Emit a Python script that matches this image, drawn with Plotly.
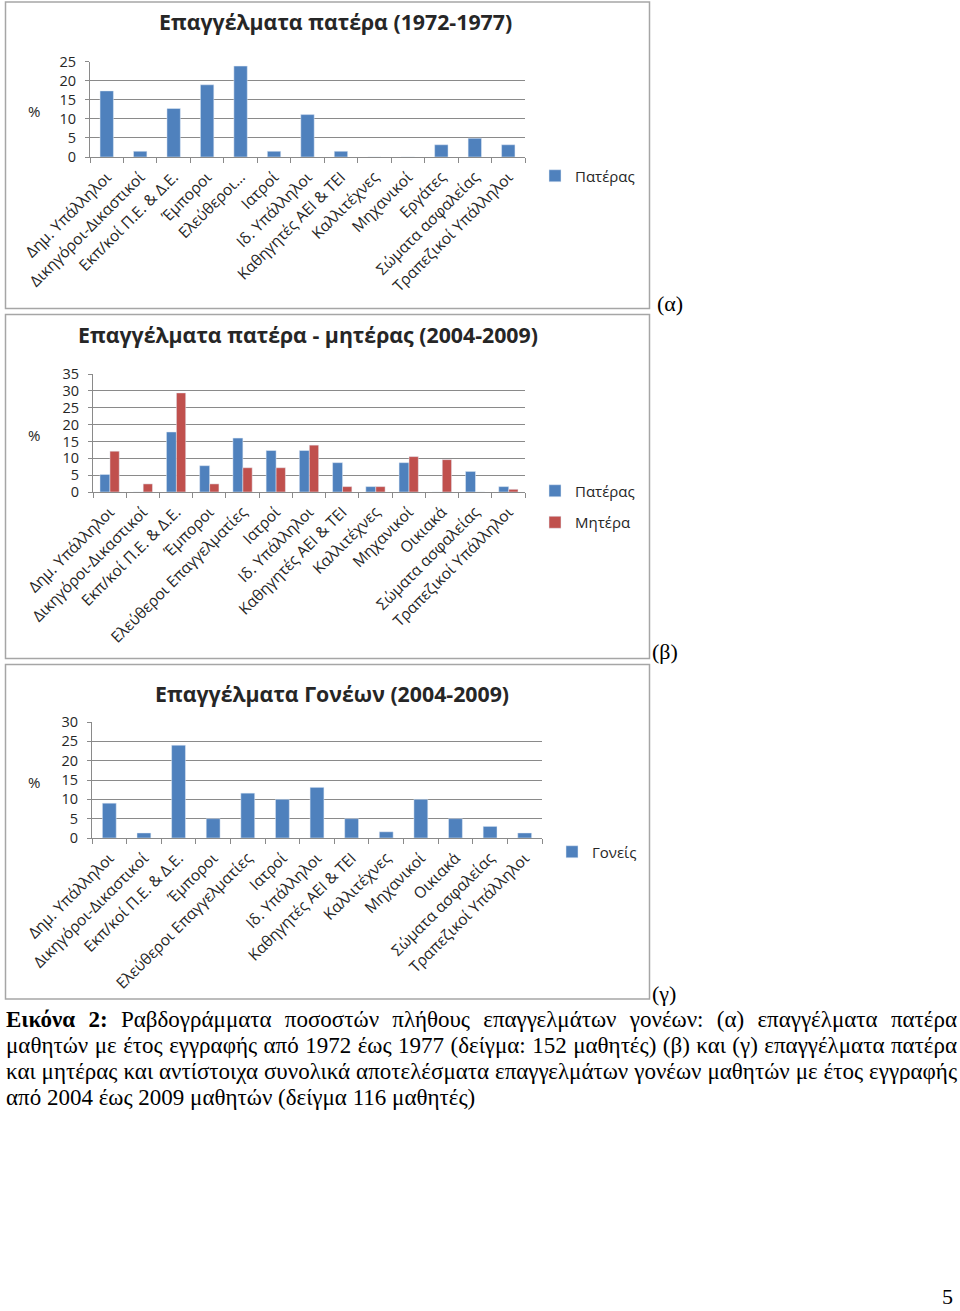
import plotly.graph_objects as go

W, H = 960, 1311

# ---------------- data ----------------
cats_a = ["Δημ. Υπάλληλοι", "Δικηγόροι-Δικαστικοί", "Εκπ/κοί Π.Ε. & Δ.Ε.", "Έμποροι",
          "Ελεύθεροι…", "Ιατροί", "Ιδ. Υπάλληλοι", "Καθηγητές ΑΕΙ & ΤΕΙ", "Καλλιτέχνες",
          "Μηχανικοί", "Εργάτες", "Σώματα ασφαλείας", "Τραπεζικοί Υπάλληλοι"]
father_a = [17.3, 1.5, 12.7, 18.9, 23.8, 1.5, 11.1, 1.5, 0, 0, 3.2, 4.9, 3.2]

cats_b = ["Δημ. Υπάλληλοι", "Δικηγόροι-Δικαστικοί", "Εκπ/κοί Π.Ε. & Δ.Ε.", "Έμποροι",
          "Ελεύθεροι Επαγγελματίες", "Ιατροί", "Ιδ. Υπάλληλοι", "Καθηγητές ΑΕΙ & ΤΕΙ",
          "Καλλιτέχνες", "Μηχανικοί", "Οικιακά", "Σώματα ασφαλείας", "Τραπεζικοί Υπάλληλοι"]
father_b = [5.2, 0, 17.8, 7.8, 16.0, 12.3, 12.3, 8.7, 1.6, 8.7, 0, 6.1, 1.6]
mother_b = [12.1, 2.4, 29.4, 2.4, 7.2, 7.2, 13.9, 1.6, 1.6, 10.5, 9.6, 0, 0.8]

cats_c = cats_b
parents_c = [9.0, 1.3, 24.0, 5.0, 11.6, 10.0, 13.1, 5.0, 1.6, 10.0, 5.0, 3.0, 1.3]

titles = ["Επαγγέλματα πατέρα (1972-1977)",
          "Επαγγέλματα πατέρα - μητέρας (2004-2009)",
          "Επαγγέλματα Γονέων (2004-2009)"]
caption_lines = [
    "<b>Εικόνα 2:</b> Ραβδογράμματα ποσοστών πλήθους επαγγελμάτων γονέων: (α) επαγγέλματα πατέρα",
    "μαθητών με έτος εγγραφής από 1972 έως 1977 (δείγμα: 152 μαθητές) (β) και (γ) επαγγέλματα πατέρα",
    "και μητέρας και αντίστοιχα συνολικά αποτελέσματα επαγγελμάτων γονέων μαθητών με έτος εγγραφής",
    "από 2004 έως 2009 μαθητών (δείγμα 116 μαθητές)",
]

BLUE = "#4F81BD"
RED = "#C0504D"
GRID = "#8a8a8a"
FONT = "Open Sans"
TXT = "#262626"


def px(x):
    return x / W


def py(y):
    return 1 - y / H


fig = go.Figure()

fig.add_trace(go.Bar(x=cats_a, y=father_a, name="Πατέρας", marker_color=BLUE,
                     width=0.4, offset=-0.2, xaxis="x", yaxis="y", legend="legend"))
fig.add_trace(go.Bar(x=cats_b, y=father_b, name="Πατέρας", marker_color=BLUE,
                     width=0.3, offset=-0.29, xaxis="x2", yaxis="y2", legend="legend2",
                     legendgroup="f"))
fig.add_trace(go.Bar(x=cats_b, y=mother_b, name="Μητέρα", marker_color=RED,
                     width=0.28, offset=0.01, xaxis="x2", yaxis="y2", legend="legend2",
                     legendgroup="m"))
fig.add_trace(go.Bar(x=cats_c, y=parents_c, name="Γονείς", marker_color=BLUE,
                     width=0.4, offset=-0.2, xaxis="x3", yaxis="y3", legend="legend3"))

# plot areas (pixels): (x0, x1, ytop, ybottom, ymax, dtick)
areas = [(90, 525, 61.5, 157, 25, 5),
         (93, 525, 374, 492, 35, 5),
         (92, 542, 722, 838, 30, 5)]

for i, (x0, x1, yt, yb, ymax, dt) in enumerate(areas):
    sfx = "" if i == 0 else str(i + 1)
    fig.layout["xaxis" + sfx] = dict(
        domain=[px(x0), px(x1)], anchor="y" + sfx, type="category",
        tickangle=-45, tickfont=dict(family=FONT, size=15.5, color=TXT),
        showline=True, linecolor=GRID, linewidth=1,
        ticks="outside", tickson="boundaries", ticklen=5, tickcolor=GRID,
        ticklabelstandoff=4,
        showgrid=False, fixedrange=True, automargin=False)
    fig.layout["yaxis" + sfx] = dict(
        domain=[py(yb), py(yt)], anchor="x" + sfx, range=[0, ymax], dtick=dt,
        tickfont=dict(family=FONT, size=14.5, color=TXT),
        showline=True, linecolor=GRID, linewidth=1,
        ticks="outside", ticklen=4, tickcolor=GRID,
        showgrid=True, gridcolor=GRID, gridwidth=1, zeroline=False,
        ticklabelstandoff=6, fixedrange=True, automargin=False)

legfont = dict(family=FONT, size=15, color=TXT)
fig.update_layout(
    legend=dict(x=px(535), y=py(176), xanchor="left", yanchor="middle",
                font=legfont, bgcolor="rgba(0,0,0,0)"),
    legend2=dict(x=px(535), y=py(506.5), xanchor="left", yanchor="middle",
                 font=legfont, bgcolor="rgba(0,0,0,0)", tracegroupgap=9),
    legend3=dict(x=px(552), y=py(852), xanchor="left", yanchor="middle",
                 font=legfont, bgcolor="rgba(0,0,0,0)"),
)

# frames
shapes = []
for (yt, yb) in [(2, 308.5), (314.5, 658.5), (664.5, 999)]:
    shapes.append(dict(type="rect", xref="paper", yref="paper",
                       x0=px(5.5), x1=px(649.5), y0=py(yb), y1=py(yt),
                       line=dict(color="#a6a6a6", width=1.5)))

ann = []
# titles
for (t, cx, cy) in [(titles[0], 335, 22), (titles[1], 308, 335), (titles[2], 332, 693)]:
    ann.append(dict(text="<b>" + t + "</b>", x=px(cx), y=py(cy), xref="paper", yref="paper",
                    showarrow=False, xanchor="center", yanchor="middle",
                    font=dict(family=FONT, size=21.3, color=TXT)))
# % labels
for cy in [111, 435, 782]:
    ann.append(dict(text="%", x=px(34), y=py(cy), xref="paper", yref="paper",
                    showarrow=False, xanchor="center", yanchor="middle",
                    font=dict(family=FONT, size=15, color=TXT)))
# (α) (β) (γ)
for (t, x, cy) in [("(α)", 655, 303), ("(β)", 650, 652), ("(γ)", 650, 993)]:
    ann.append(dict(text=t, x=px(x), y=py(cy), xref="paper", yref="paper",
                    showarrow=False, xanchor="left", yanchor="middle",
                    font=dict(family="Liberation Serif", size=22, color="#000")))
# caption
for i, line in enumerate(caption_lines):
    ann.append(dict(text=line, x=px(4), y=py(1019 + 26 * i), xref="paper", yref="paper",
                    showarrow=False, xanchor="left", yanchor="middle",
                    font=dict(family="Liberation Serif", size=23, color="#000")))
# page number
ann.append(dict(text="5", x=px(955), y=py(1296), xref="paper", yref="paper",
                showarrow=False, xanchor="right", yanchor="middle",
                font=dict(family="Liberation Serif", size=22, color="#000")))

fig.update_layout(
    width=W, height=H, margin=dict(l=0, r=0, t=0, b=0, autoexpand=False),
    paper_bgcolor="white", plot_bgcolor="white",
    barmode="overlay", showlegend=True,
    shapes=shapes, annotations=ann,
)

post = """
document.body.style.margin = '0';
var starts = ['Εικόνα', 'μαθητών με', 'και μητέρας'];
document.querySelectorAll('.annotation-text').forEach(function(t){
  var s = t.textContent;
  var hit = starts.some(function(p){ return s.indexOf(p) === 0; });
  if (!hit) return;
  var r0 = t.getBoundingClientRect();
  var n = (s.match(/ /g) || []).length;
  var ws = (957 - r0.right) / n;
  if (ws > 0) {
    t.style.wordSpacing = ws + 'px';
    var r1 = t.getBoundingClientRect();
    var dx = r0.left - r1.left;
    t.setAttribute('transform', 'translate(' + dx + ',0)');
  }
});
"""

fig.write_html("out.html", config={"displayModeBar": False}, post_script=post)
